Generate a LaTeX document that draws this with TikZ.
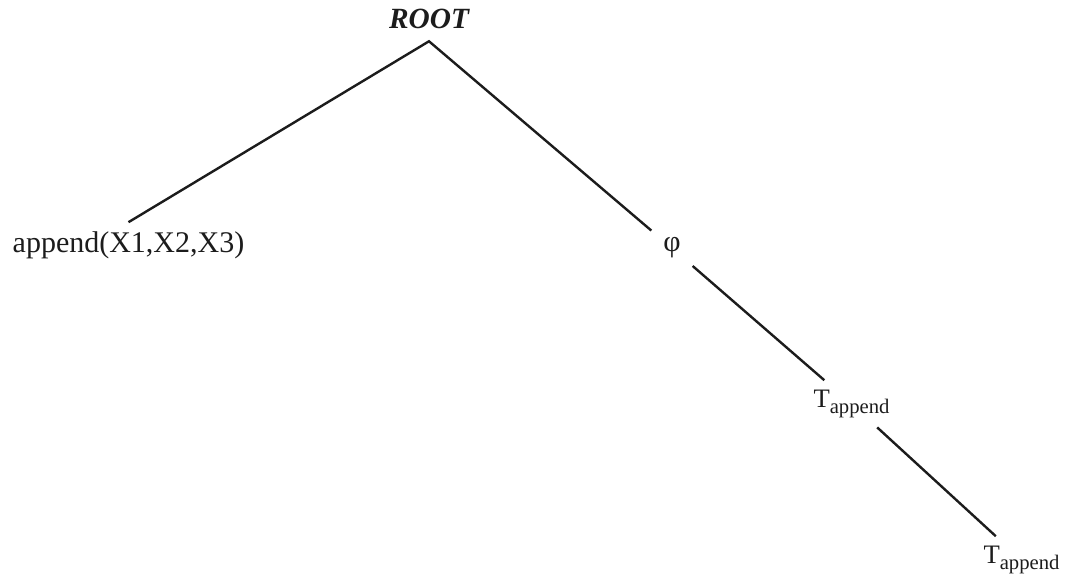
\documentclass[tikz,border=0pt]{standalone}
\usepackage{fontspec}
\usepackage{xcolor}
\usepackage{tikz}
\setmainfont{Liberation Serif}
\definecolor{inkgray}{HTML}{1C1C1C}

\tikzset{
  branch/.style={draw=inkgray, line width=1.8pt},
  treelabel/.style={anchor=base, inner sep=0pt, outer sep=7pt, text=inkgray,
    font=\fontsize{22.5}{27}\selectfont},
  termlabel/.style={treelabel, font=\fontsize{20}{24}\selectfont},
}
% T with a lowered, smaller name
\newcommand{\termsub}[1]{T\raisebox{-5pt}{\fontsize{15.5}{18}\selectfont #1}}

\begin{document}
\begin{tikzpicture}[x=0.75pt, y=-0.75pt]
  \useasboundingbox (0,0) rectangle (1067,577);

  \node[treelabel, outer sep=9pt, font=\fontsize{22}{26}\selectfont\bfseries\itshape]
    (root) at (429,29) {ROOT};
  \node[treelabel, outer sep=7.5pt] (goal) at (128.5,253) {append(X1,X2,X3)};
  \node[treelabel, outer sep=9pt] (phi) at (672,252) {φ};
  \node[termlabel] (tone) at (851.5,407) {\termsub{append}};
  \node[termlabel] (ttwo) at (1021.5,563) {\termsub{append}};

  \draw[branch] (goal.north) -- (root.south) -- (phi);
  \draw[branch] (phi) -- (tone);
  \draw[branch] (tone) -- (ttwo);
\end{tikzpicture}
\end{document}
